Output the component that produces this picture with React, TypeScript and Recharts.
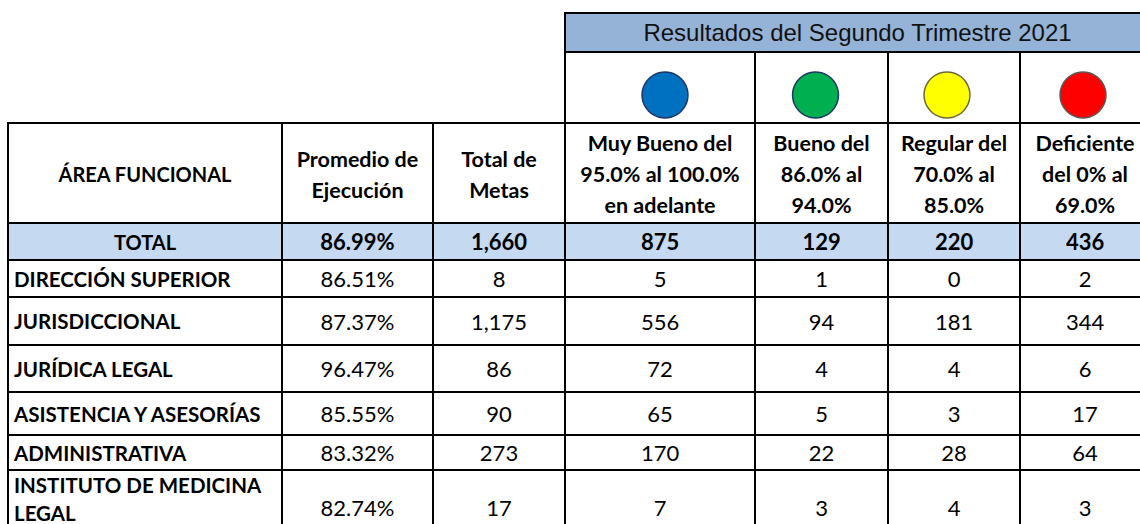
import React from 'react';
import { PieChart, Pie } from 'recharts';

// table data
const title = 'Resultados del Segundo Trimestre 2021';
const fixedHeaders = [['ÁREA FUNCIONAL'], ['Promedio de', 'Ejecución'], ['Total de', 'Metas']];
const levelHeaders = [
  ['Muy Bueno del', '95.0% al 100.0%', 'en adelante'],
  ['Bueno del', '86.0% al', '94.0%'],
  ['Regular del', '70.0% al', '85.0%'],
  ['Deficiente', 'del 0% al', '69.0%'],
];
const levelColors = ['#0070C0', '#00B050', '#FFFF00', '#FF0000'];
const levelOutlines = ['#1F3864', '#1F3864', '#6B6B3A', '#595959'];

const areas = [
  'DIRECCIÓN SUPERIOR',
  'JURISDICCIONAL',
  'JURÍDICA LEGAL',
  'ASISTENCIA Y ASESORÍAS',
  'ADMINISTRATIVA',
  'INSTITUTO DE MEDICINA LEGAL',
];
const promedio = [86.51, 87.37, 96.47, 85.55, 83.32, 82.74];
const totalMetas = [8, 1175, 86, 90, 273, 17];
const muyBueno = [5, 556, 72, 65, 170, 7];
const bueno = [1, 94, 4, 5, 22, 3];
const regular = [0, 181, 4, 3, 28, 4];
const deficiente = [2, 344, 6, 17, 64, 3];

const totalLabel = 'TOTAL';
const totalPromedio = 86.99;
const totalRow = [1660, 875, 129, 220, 436];

// layout
const FONT = 'Lato, "Open Sans", sans-serif';
const colWidths = [274, 151, 132, 190, 133, 132, 130];
const bodyHeights = [37, 48, 47, 43, 35, 57];
const dotShift = [5, -6, -7, -2];

const pct = (v: number) => v.toFixed(2) + '%';
const num = (v: number) => v.toLocaleString('en-US');

const cell: React.CSSProperties = {
  border: '2px solid #000',
  padding: 0,
  textAlign: 'center',
  verticalAlign: 'middle',
  fontFamily: FONT,
  color: '#000',
};

const Dot = ({ i }: { i: number }) => {
  const w = colWidths[i + 3] - 2;
  const cx = w / 2 + dotShift[i];
  return (
    <PieChart width={w} height={69} margin={{ top: 0, right: 0, bottom: 0, left: 0 }}>
      <Pie
        data={[{ value: 1 }]}
        dataKey="value"
        cx={cx}
        cy={42}
        outerRadius={23}
        stroke="none"
        fill={levelColors[i]}
        isAnimationActive={false}
      />
      <Pie
        data={[{ value: 1 }]}
        dataKey="value"
        cx={cx}
        cy={42}
        innerRadius={22.2}
        outerRadius={23.7}
        stroke="none"
        fill={levelOutlines[i]}
        isAnimationActive={false}
      />
    </PieChart>
  );
};

const Lines = ({ lines }: { lines: string[] }) => (
  <>
    {lines.map((l, k) => (
      <React.Fragment key={k}>
        {k > 0 && <br />}
        {l}
      </React.Fragment>
    ))}
  </>
);

export default function App() {
  const bodyCols = [totalMetas, muyBueno, bueno, regular, deficiente];
  return (
    <div
      style={{
        position: 'fixed',
        left: 0,
        top: 0,
        width: 1140,
        height: 524,
        overflow: 'hidden',
        background: '#fff',
      }}
    >
      <table
        style={{
          position: 'absolute',
          left: 7,
          top: 12,
          borderCollapse: 'collapse',
          tableLayout: 'fixed',
          width: colWidths.reduce((a, b) => a + b, 0),
        }}
      >
        <colgroup>
          {colWidths.map((w, i) => (
            <col key={i} style={{ width: w }} />
          ))}
        </colgroup>
        <tbody>
          <tr style={{ height: 39 }}>
            <td colSpan={3} rowSpan={2} style={{ ...cell, border: 'none' }} />
            <td
              colSpan={4}
              style={{
                ...cell,
                background: '#95B3D7',
                fontFamily: '"Liberation Sans", Arial, sans-serif',
                fontSize: 24,
                color: '#111',
              }}
            >
              {title}
            </td>
          </tr>
          <tr style={{ height: 71 }}>
            {levelColors.map((_, i) => (
              <td key={i} style={cell}>
                <Dot i={i} />
              </td>
            ))}
          </tr>
          <tr style={{ height: 100 }}>
            {[...fixedHeaders, ...levelHeaders].map((h, i) => (
              <td
                key={i}
                style={{ ...cell, fontWeight: 700, fontSize: i === 0 ? 20 : 21.5, lineHeight: '31px', paddingTop: 3 }}
              >
                <Lines lines={h} />
              </td>
            ))}
          </tr>
          <tr style={{ height: 37, background: '#C5D9F1' }}>
            <td style={{ ...cell, fontWeight: 700, fontSize: 20 }}>{totalLabel}</td>
            <td style={{ ...cell, fontWeight: 700, fontSize: 22 }}>{pct(totalPromedio)}</td>
            {totalRow.map((v, i) => (
              <td key={i} style={{ ...cell, fontWeight: 700, fontSize: 22 }}>
                {num(v)}
              </td>
            ))}
          </tr>
          {areas.map((a, r) => {
            const last = r === areas.length - 1;
            const va: React.CSSProperties = last
              ? { verticalAlign: 'bottom', paddingBottom: 6 }
              : {};
            return (
              <tr key={a} style={{ height: bodyHeights[r] }}>
                <td
                  style={{
                    ...cell,
                    textAlign: 'left',
                    paddingLeft: 5,
                    fontWeight: 700,
                    fontSize: 20.5,
                    lineHeight: last ? '28px' : undefined,
                    verticalAlign: last ? 'bottom' : 'middle',
                  }}
                >
                  {a}
                </td>
                <td style={{ ...cell, fontSize: 22, ...va }}>{pct(promedio[r])}</td>
                {bodyCols.map((col, c) => (
                  <td key={c} style={{ ...cell, fontSize: 22, ...va }}>
                    {num(col[r])}
                  </td>
                ))}
              </tr>
            );
          })}
        </tbody>
      </table>
    </div>
  );
}
